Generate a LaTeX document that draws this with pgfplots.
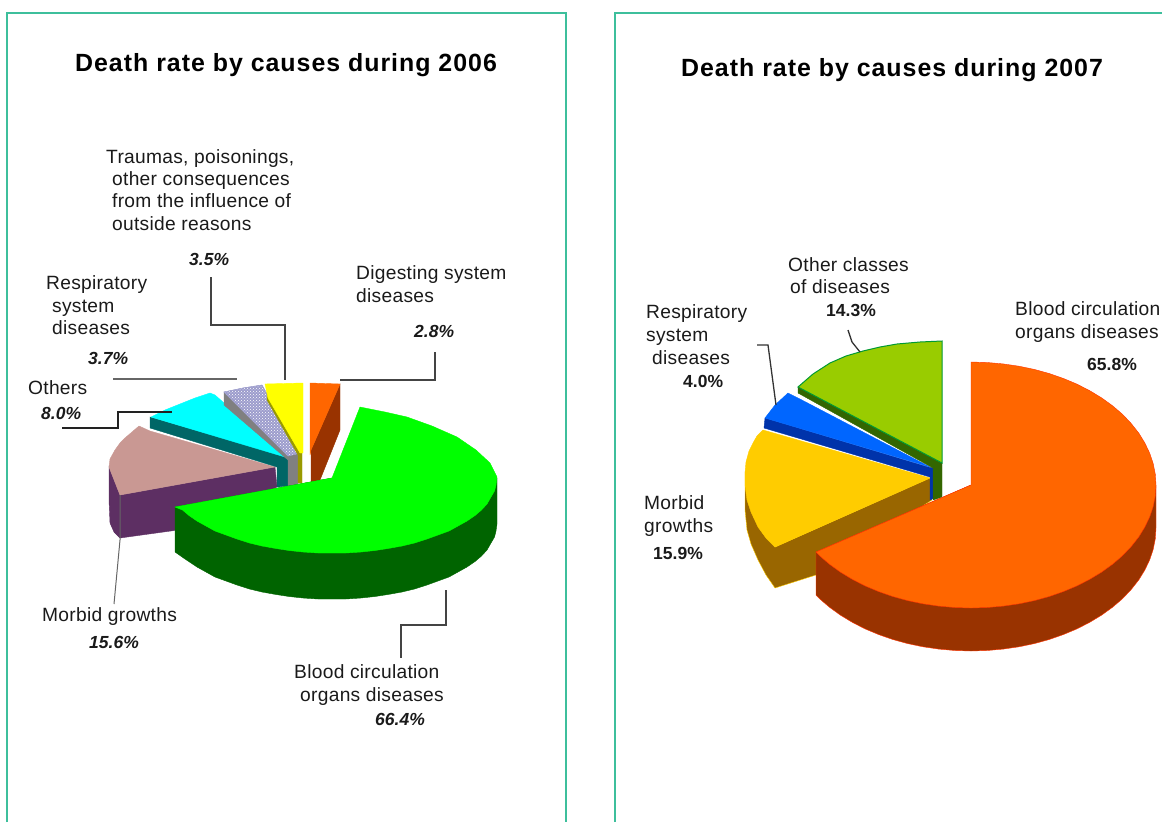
\documentclass[border=0pt]{standalone}
\usepackage{fontspec}
\setmainfont{Liberation Sans}
\usepackage{pgfplots}
\pgfplotsset{compat=1.18}
\usetikzlibrary{patterns}
\definecolor{frame}{HTML}{3DBF9C}
\definecolor{ink}{HTML}{1A1A1A}
\newcommand{\DC}[1]{\definecolor{HTML#1}{HTML}{#1}}
\DC{5D2F63}\DC{C99893}\DC{006666}\DC{808080}\DC{9C9CCC}\DC{999900}\DC{993300}\DC{FF6600}\DC{006400}\DC{00FF00}\DC{00FFFF}\DC{FFFF00}\DC{444444}\DC{666666}\DC{222222}\DC{996600}\DC{FFCC00}\DC{0033AA}\DC{0066FF}\DC{336600}\DC{99CC00}\DC{009933}\DC{FF3300}\DC{333333}
\newcommand{\T}[3]{\node[anchor=base west,inner sep=0pt,text=ink,font=\fontsize{19.2pt}{21pt}\selectfont\addfontfeatures{LetterSpace=1.5}] at (axis cs:#1,#2) {#3};}
\newcommand{\V}[3]{\node[anchor=base west,inner sep=0pt,text=ink,font=\fontsize{17.5pt}{19pt}\selectfont\bfseries\itshape] at (axis cs:#1,#2) {#3};}
\newcommand{\U}[3]{\node[anchor=base west,inner sep=0pt,text=ink,font=\fontsize{17.5pt}{19pt}\selectfont\bfseries] at (axis cs:#1,#2) {#3};}
\newcommand{\B}[3]{\node[anchor=base west,inner sep=0pt,text=black,font=\fontsize{24.9pt}{26pt}\selectfont\bfseries\addfontfeatures{LetterSpace=4}] at (axis cs:#1,#2) {#3};}
\begin{document}
\begin{tikzpicture}
\begin{axis}[scale only axis,width=1162pt,height=822pt,xmin=0,xmax=1162,ymin=0,ymax=822,y dir=reverse,hide axis,clip=false]
% frames
\addplot[frame,line width=2pt,forget plot] coordinates {(6.5,822)(6.5,13)(565.5,13)(565.5,822)};
\addplot[frame,line width=2pt,forget plot] coordinates {(614.5,822)(614.5,13)(1162,13)};
% ---- 2006 ----
% purple side + pink face
\addplot[fill=HTML5D2F63,draw=HTML5D2F63,forget plot] coordinates {(109,467)(109,500)(110,523)(114,532)(120,538)(178,530)(277,487)(275,467)(120,495)} --cycle;
\addplot[fill=HTMLC99893,draw=HTMLC99893,forget plot] coordinates {(109,467)(110,459)(115,450)(120,443)(125,438)(132,432)(139,426)(150,431)(275,467)(120,495)} --cycle;
\addplot[HTML666666,line width=1pt,forget plot] coordinates {(120,495)(120,540)(114,604)};
% teal + cyan
\addplot[fill=HTML006666,draw=HTML006666,forget plot] coordinates {(150,417)(150,428)(277,467)(277,487)(288,486)(288,457)} --cycle;
\addplot[fill=HTML00FFFF,draw=HTML00FFFF,forget plot] coordinates {(151,417)(165,410)(180,404)(195,398)(210,393)(215,395)(285,457)} --cycle;
% grey + lavender
\addplot[fill=HTML808080,draw=HTML808080,forget plot] coordinates {(224,392)(224,405)(288,460)(288,486)(298,485)(298,455)} --cycle;
\addplot[fill=HTML9C9CCC,draw=HTML9C9CCC,postaction={pattern=crosshatch dots,pattern color=white},forget plot] coordinates {(224,392)(243,388)(262,385)(300,453)(288,456)} --cycle;
% olive + yellow
\addplot[fill=HTML999900,draw=HTML999900,forget plot] coordinates {(267,388)(302,453)(302,483)(298,483)(298,455)(267,400)} --cycle;
\addplot[fill=HTMLFFFF00,draw=HTMLFFFF00,forget plot] coordinates {(265,384)(303,383)(303,453)(300,453)(268,398)} --cycle;
% small orange
\addplot[fill=HTML993300,draw=HTML993300,forget plot] coordinates {(340,384)(340,430)(320,480)(311,482)(311,450)} --cycle;
\addplot[fill=HTMLFF6600,draw=HTMLFF6600,forget plot] coordinates {(310,383)(340,384)(311,450)(310,455)} --cycle;
% big green
\addplot[fill=HTML006400,draw=HTML006400,forget plot] coordinates {(497,478)(497,524)(496,531)(494.5,537)(491,543)(487,550)(481.5,556)(475,561.5)(467,567)(458,572)(449,577)(438,581)(427,585)(414.5,589)(402,592)(388,594.5)(375,596.5)(361,598)(346,599)(332,599)(318,599)(303,598)(289,596.5)(276,594.5)(262,592)(249.5,589)(237,585)(226,581)(215,577)(206,572)(197,567)(185,559)(175,552)(175,507)(332,478)} --cycle;
\addplot[fill=HTML00FF00,draw=HTML00FF00,forget plot] coordinates {(360,407)(385,412)(407,417)(432,426)(457,437)(476,450)(490,463)(497,477)(496,485)(494.5,491)(491,497)(487,504)(481.5,510)(475,515.5)(467,521)(458,526)(449,531)(438,535)(427,539)(414.5,543)(402,546)(388,548.5)(375,550.5)(361,552)(346,553)(332,553)(318,553)(303,552)(289,550.5)(276,548.5)(262,546)(249.5,543)(237,539)(226,535)(215,531)(206,526)(197,521)(189,515.5)(182.5,510)(175,507)(332,478)} --cycle;
% leaders
\addplot[HTML444444,line width=1.3pt,forget plot] coordinates {(211,277)(211,325)(285,325)(285,380)};
\addplot[HTML444444,line width=1.3pt,forget plot] coordinates {(435,352)(435,380)(340,380)};
\addplot[HTML666666,line width=1.3pt,forget plot] coordinates {(113,379)(237,379)};
\addplot[HTML222222,line width=1.3pt,forget plot] coordinates {(62,428)(118,428)(118,412)(172,412)};
\addplot[HTML444444,line width=1.3pt,forget plot] coordinates {(446,590)(446,625)(401,625)(401,658)};
% texts
\B{75}{71}{Death rate by causes during 2006}
\T{106}{163}{Traumas, poisonings,}
\T{112}{185}{other consequences}
\T{112}{207}{from the influence of}
\T{112}{230}{outside reasons}
\V{189}{265}{3.5\%}
\T{356}{279}{Digesting system}
\T{356}{302}{diseases}
\V{414}{337}{2.8\%}
\T{46}{289}{Respiratory}
\T{52}{312}{system}
\T{52}{334}{diseases}
\V{88}{364}{3.7\%}
\T{28}{394}{Others}
\V{41}{419}{8.0\%}
\T{42}{621}{Morbid growths}
\V{89}{648}{15.6\%}
\T{294}{678}{Blood circulation}
\T{300}{701}{organs diseases}
\V{375}{725}{66.4\%}
% ---- 2007 ----
% yellow slice
\addplot[fill=HTML996600,draw=HTMLFFCC00,forget plot] coordinates {(745,473)(745,510)(747,530)(751,544)(758,560)(766,575)(775,588)(816,575)(932,500)(930,478)(775,547)} --cycle;
\addplot[fill=HTMLFFCC00,draw=HTMLFFCC00,forget plot] coordinates {(763,430)(757,436)(753,443)(749,451)(746,462)(745,473)(745,485)(747,500)(751,512)(758,527)(766,538)(775,547)(930,478)} --cycle;
% blue slice
\addplot[fill=HTML0033AA,draw=HTML0033AA,forget plot] coordinates {(765,418)(764,428)(930,477)(930,500)(934,498)(934,468)(928,467)} --cycle;
\addplot[fill=HTML0066FF,draw=HTML0066FF,forget plot] coordinates {(765,418)(775,405)(788,393)(798,398)(930,467)} --cycle;
% green slice
\addplot[fill=HTML336600,draw=HTML336600,forget plot] coordinates {(798,387)(798,393)(933,468)(933,500)(942,497)(942,463)} --cycle;
\addplot[fill=HTML99CC00,draw=HTML009933,line width=1pt,forget plot] coordinates {(798,387)(813,374)(830,363)(846,356)(863,351)(880,347)(897,344)(920,342)(942,341)(942,463)} --cycle;
% big orange
\addplot[fill=HTML993300,draw=HTMLFF3300,forget plot] coordinates {(1156,485)(1156,528)(1155.3,538.7)(1153.2,549.4)(1149.7,559.8)(1144.8,570.1)(1138.7,580)(1131.2,589.5)(1122.6,598.6)(1112.7,607.1)(1101.8,615)(1089.9,622.2)(1077.1,628.8)(1063.5,634.5)(1049.2,639.5)(1034.3,643.6)(1018.9,646.8)(1003.1,649.1)(987.1,650.5)(971,651)(954.9,650.5)(938.9,649.1)(923.1,646.8)(907.7,643.6)(892.8,639.5)(878.5,634.5)(864.9,628.8)(852.1,622.2)(840.2,615)(829.3,607.1)(819.4,598.6)(816,595)(816,552)(971,485)} --cycle;
\addplot[fill=HTMLFF6600,draw=HTMLFF3300,forget plot] coordinates {(971,362)(987.1,362.5)(1003.1,363.9)(1018.9,366.2)(1034.3,369.4)(1049.2,373.5)(1063.5,378.5)(1077.1,384.2)(1089.9,390.8)(1101.8,398)(1112.7,405.9)(1122.6,414.4)(1131.2,423.5)(1138.7,433)(1144.8,442.9)(1149.7,453.2)(1153.2,463.6)(1155.3,474.3)(1156,485)(1155.3,495.7)(1153.2,506.4)(1149.7,516.8)(1144.8,527.1)(1138.7,537)(1131.2,546.5)(1122.6,555.6)(1112.7,564.1)(1101.8,572)(1089.9,579.2)(1077.1,585.8)(1063.5,591.5)(1049.2,596.5)(1034.3,600.6)(1018.9,603.8)(1003.1,606.1)(987.1,607.5)(971,608)(954.9,607.5)(938.9,606.1)(923.1,603.8)(907.7,600.6)(892.8,596.5)(878.5,591.5)(864.9,585.8)(852.1,579.2)(840.2,572)(829.3,564.1)(819.4,555.6)(816,552)(971,485)} --cycle;
% leaders
\addplot[HTML333333,line width=1.3pt,forget plot] coordinates {(757,345)(768,345)(776,405)};
\addplot[HTML333333,line width=1.3pt,forget plot] coordinates {(848,330)(852,342)(860,352)};
% texts
\B{681}{76}{Death rate by causes during 2007}
\T{788}{271}{Other classes}
\T{790}{293}{of diseases}
\U{826}{316}{14.3\%}
\T{646}{318}{Respiratory}
\T{646}{341}{system}
\T{652}{364}{diseases}
\U{683}{387}{4.0\%}
\T{644}{509}{Morbid}
\T{644}{532}{growths}
\U{653}{559}{15.9\%}
\T{1015}{315}{Blood circulation}
\T{1015}{338}{organs diseases}
\U{1087}{370}{65.8\%}
\end{axis}
\pgfresetboundingbox
\path[use as bounding box] (0,0) rectangle (1162pt,822pt);
\end{tikzpicture}
\end{document}
